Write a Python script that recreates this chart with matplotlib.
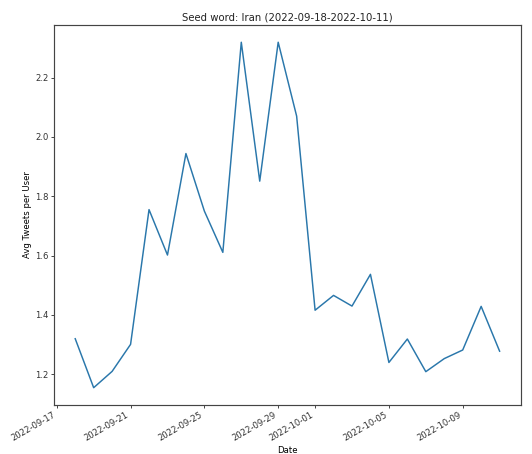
import matplotlib
matplotlib.use("Agg")
import matplotlib.pyplot as plt
import pandas as pd

dates = pd.date_range("2022-09-18", "2022-10-11", freq="D")
avg_tweets = [1.320, 1.155, 1.210, 1.301, 1.755, 1.602, 1.944, 1.750,
              1.611, 2.319, 1.851, 2.319, 2.070, 1.416, 1.466, 1.430,
              1.537, 1.240, 1.319, 1.209, 1.253, 1.282, 1.429, 1.278]

plt.rcParams.update({
    "font.size": 11.5,
    "axes.titlesize": 13.8,
    "axes.labelsize": 11.5,
    "xtick.labelsize": 11.5,
    "ytick.labelsize": 11.5,
    "axes.edgecolor": "#444444",
    "axes.linewidth": 1.6,
    "xtick.major.width": 1.2,
    "ytick.major.width": 1.2,
    "xtick.color": "#333333",
    "ytick.color": "#333333",
    "text.color": "#222222",
})

fig, ax = plt.subplots(figsize=(10, 454 / 53.2), dpi=53.2)
ax.plot(dates, avg_tweets, color="#2a77ab", linewidth=2.0)
ax.set_title("Seed word: Iran (2022-09-18-2022-10-11)")
ax.set_xlabel("Date")
ax.set_ylabel("Avg Tweets per User")
fig.autofmt_xdate(bottom=0.108, rotation=30, ha="right")
fig.subplots_adjust(left=0.1015, right=0.979, top=0.945, bottom=0.108)
fig.savefig("out.png", dpi=53.2)
